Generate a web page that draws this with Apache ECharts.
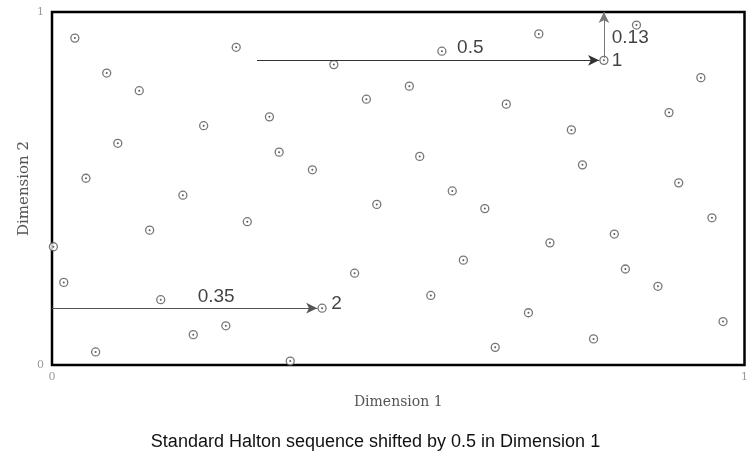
<!DOCTYPE html>
<html>
<head>
<meta charset="utf-8">
<script src="https://cdn.jsdelivr.net/npm/echarts@6/dist/echarts.min.js"></script>
<style>
  html, body { margin: 0; padding: 0; background: #fff; }
  #main { width: 751px; height: 465px; }
</style>
</head>
<body>
<div id="main"></div>
<script>
// points: dimension 1 / dimension 2
var dim1 = [0.033, 0.266, 0.079, 0.126, 0.219, 0.095, 0.049, 0.189, 0.563, 0.407,
            0.516, 0.454, 0.314, 0.656, 0.328, 0.531, 0.376, 0.578, 0.703, 0.844,
            0.797, 0.937, 0.891, 0.750, 0.766, 0.905, 0.282, 0.141, 0.002, 0.017,
            0.157, 0.251, 0.204, 0.063, 0.469, 0.625, 0.594, 0.437, 0.547, 0.390,
            0.640, 0.344, 0.953, 0.812, 0.719, 0.828, 0.875, 0.688, 0.969, 0.782];
var dim2 = [0.926, 0.900, 0.827, 0.777, 0.678, 0.628, 0.529, 0.481, 0.889, 0.851,
            0.790, 0.753, 0.703, 0.739, 0.603, 0.591, 0.553, 0.493, 0.938, 0.963,
            0.863, 0.814, 0.715, 0.666, 0.567, 0.516, 0.406, 0.382, 0.335, 0.234,
            0.185, 0.111, 0.086, 0.037, 0.455, 0.443, 0.297, 0.260, 0.197, 0.161,
            0.050, 0.011, 0.417, 0.371, 0.346, 0.272, 0.223, 0.148, 0.123, 0.074];

// shift arrows: [x1, y1, x2, y2]
var arrows = [
  [0.296, 0.863, 0.790, 0.863],
  [0.797, 0.870, 0.797, 1.0],
  [0.0, 0.161, 0.383, 0.161]
];
var arrowColors = ['#333', '#777', '#555'];
// annotation texts: [x, y, text]
var notes = [
  [0.604, 0.898, '0.5'],
  [0.835, 0.926, '0.13'],
  [0.816, 0.861, '1'],
  [0.237, 0.193, '0.35'],
  [0.411, 0.173, '2']
];

var pts = []
for (let i = 0; i < dim1.length; i++) {
  pts.push([dim1[i], dim2[i]])
}

var arrowData = arrows.map(function (a, i) {
  return [
    { coord: [a[0], a[1]], lineStyle: { color: arrowColors[i] } },
    { coord: [a[2], a[3]] }
  ]
})

var axisFont = 'DejaVu Serif'

var chart = echarts.init(document.getElementById('main'))
var option = {
  animation: false,
  backgroundColor: '#fff',
  title: {
    text: 'Standard Halton sequence shifted by 0.5 in Dimension 1',
    left: 'center',
    top: 428,
    textStyle: { fontFamily: 'Liberation Sans', fontSize: 18, fontWeight: 'normal', color: '#111' }
  },
  grid: {
    left: 52, right: 4, top: 12, bottom: 100,
    show: true,
    borderColor: '#000',
    borderWidth: 2.5
  },
  xAxis: {
    type: 'value', min: 0, max: 1, interval: 1,
    name: 'Dimension 1',
    nameLocation: 'middle',
    nameGap: 30,
    nameTextStyle: { fontFamily: axisFont, fontSize: 14, color: '#555' },
    axisLine: { show: false },
    axisTick: { show: false },
    splitLine: { show: false },
    axisLabel: { fontFamily: axisFont, fontSize: 11, color: '#999', margin: 7 }
  },
  yAxis: {
    type: 'value', min: 0, max: 1, interval: 1,
    name: 'Dimension 2',
    nameLocation: 'middle',
    nameRotate: 90,
    nameGap: 20,
    nameMoveOverlap: false,
    nameTextStyle: { fontFamily: axisFont, fontSize: 15, color: '#555' },
    axisLine: { show: false },
    axisTick: { show: false },
    splitLine: { show: false },
    axisLabel: { fontFamily: axisFont, fontSize: 11, color: '#999', margin: 8 }
  },
  series: [
    {
      type: 'scatter',
      data: pts,
      symbol: 'circle',
      symbolSize: 8,
      itemStyle: { color: '#fff', borderColor: '#555', borderWidth: 1.3 },
      z: 3,
      markLine: {
        silent: true,
        symbol: ['none', 'arrow'],
        symbolSize: [8, 11],
        label: { show: false },
        lineStyle: { type: 'solid', width: 1 },
        data: arrowData
      }
    },
    {
      // the dot in the middle of each ring
      type: 'scatter',
      data: pts,
      symbol: 'circle',
      symbolSize: 2,
      itemStyle: { color: '#333' },
      z: 4
    },
    {
      type: 'scatter',
      data: notes.map(function (n) { return [n[0], n[1], n[2]] }),
      symbolSize: 0,
      z: 5,
      label: {
        show: true,
        position: 'inside',
        formatter: function (p) { return p.value[2] },
        fontFamily: 'Liberation Sans',
        fontSize: 19,
        color: '#111'
      }
    }
  ]
}
chart.setOption(option)
</script>
</body>
</html>
